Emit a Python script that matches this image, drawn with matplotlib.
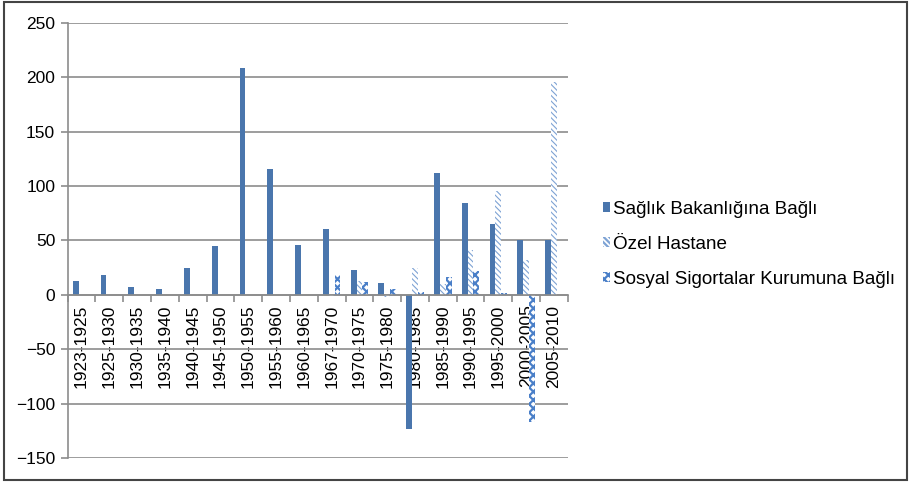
import numpy as np
import matplotlib
matplotlib.use("Agg")
import matplotlib.pyplot as plt
from matplotlib.patches import Rectangle

plt.rcParams['font.family'] = ['Liberation Sans', 'DejaVu Sans']

# periods on the x axis
periods = ["1923-1925", "1925-1930", "1930-1935", "1935-1940", "1940-1945",
           "1945-1950", "1950-1955", "1955-1960", "1960-1965", "1967-1970",
           "1970-1975", "1975-1980", "1980-1985", "1985-1990", "1990-1995",
           "1995-2000", "2000-2005", "2005-2010"]

# values
saglik = [13, 18, 7, 5, 25, 45, 208, 116, 46, 60, 23, 11, -123, 112, 84, 65, 50, 50]
ozel = [0, 0, 0, 0, 0, 0, 0, 0, 0, -1, 13, -2, 25, 10, 41, 95, 32, 196]
sosyal = [0, 0, 0, 0, 0, 0, 0, 0, 0, 18, 12, 5, 3, 16, 22, 2, -117, 0]

blue = '#4a76ad'
grid_c = '#8c8c8c'
fs = 12.5

fig = plt.figure(figsize=(9.11, 4.82), dpi=100)
ax = fig.add_axes([0.0743, 0.0498, 0.549, 0.903])

x = np.arange(len(periods))
w = 0.21

ax.bar(x - w, saglik, w, color=blue, linewidth=0, zorder=3, label='Sağlık Bakanlığına Bağlı')

plt.rcParams['hatch.linewidth'] = 0.8
ax.bar(x, ozel, w, facecolor='white', edgecolor='#7ea3d4', hatch='\\\\\\\\\\\\',
       linewidth=0, zorder=3, label='Özel Hastane')

# checkered look for the third series
plt.rcParams['hatch.linewidth'] = 1.6
ax.bar(x + w, sosyal, w, facecolor='white', edgecolor='#4a7fc8', hatch='xxxx',
       linewidth=0, zorder=3, label='Sosyal Sigortalar Kurumuna Bağlı')

ax.set_ylim(-150, 250)
ax.set_xlim(-0.5, len(periods) - 0.5)
ax.set_yticks(np.arange(-150, 251, 50))
ax.yaxis.grid(True, color=grid_c, linewidth=1.2, zorder=0)
ax.set_axisbelow(True)

for s in ['top', 'right']:
    ax.spines[s].set_visible(False)
ax.spines['left'].set_color(grid_c)
ax.spines['left'].set_linewidth(1.2)
ax.spines['bottom'].set_position(('data', 0))
ax.spines['bottom'].set_color(grid_c)
ax.spines['bottom'].set_linewidth(1.2)
ax.spines['bottom'].set_zorder(4)

ax.set_xticks(x)
ax.set_xticklabels(periods, rotation=90, fontsize=fs)
ax.set_xticks(np.arange(-0.5, len(periods), 1.0), minor=True)
ax.tick_params(axis='x', which='major', length=0, pad=7)
ax.tick_params(axis='x', which='minor', length=5, color=grid_c, width=1.2, direction='out')
ax.tick_params(axis='y', length=5, color=grid_c, width=1.2, labelsize=fs, pad=4)

fig.legend(loc='center left', bbox_to_anchor=(0.651, 0.493), frameon=False,
           fontsize=13.6, handlelength=0.4, handleheight=0.4, handletextpad=0.15,
           labelspacing=0.95, borderpad=0)

fig.patches.append(Rectangle((0.004, 0.005), 0.992, 0.99, transform=fig.transFigure,
                             fill=False, edgecolor='#444444', linewidth=1.5))

fig.savefig('out.png', dpi=100)
